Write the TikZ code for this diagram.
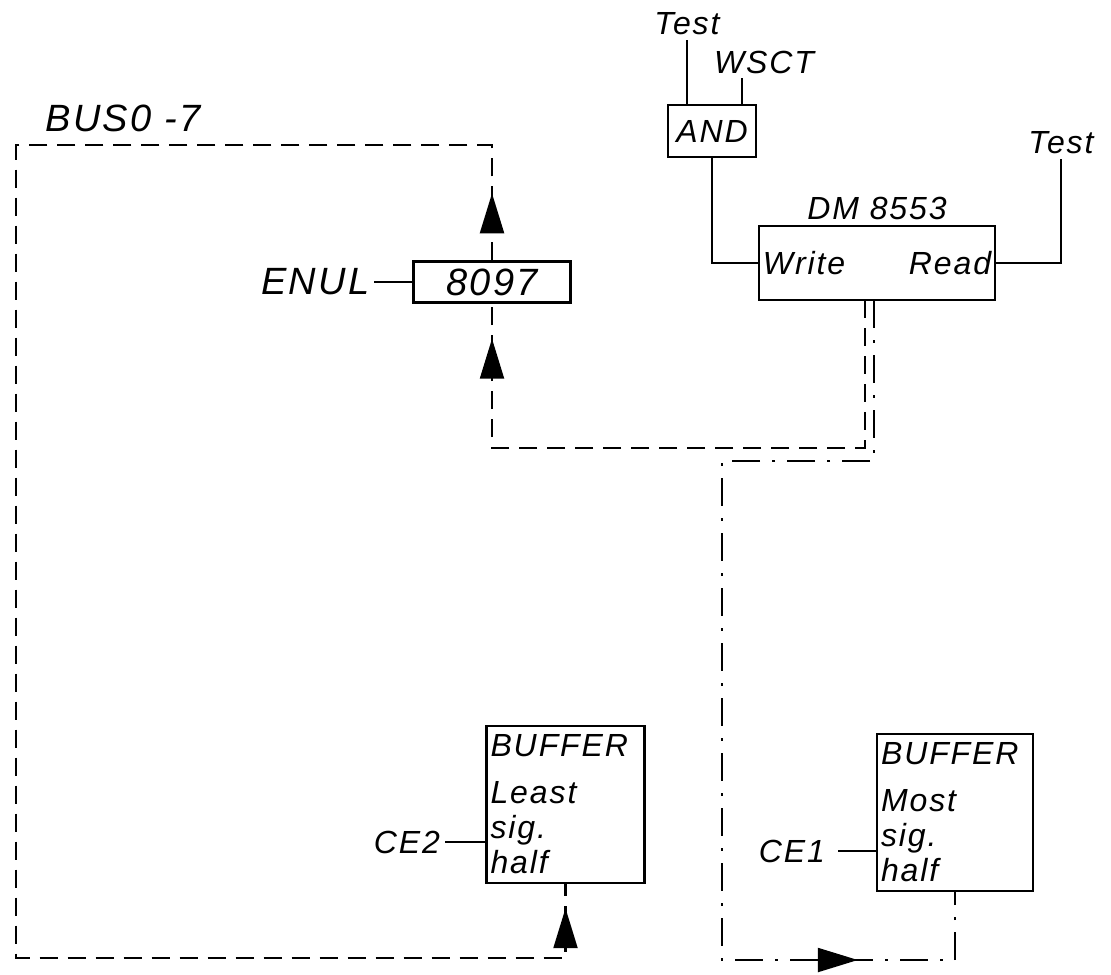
\documentclass[tikz,border=0pt]{standalone}
\usepackage{fontspec}
\setmainfont{Liberation Sans}[LetterSpace=6]
\usetikzlibrary{positioning, arrows.meta, decorations.markings}

\begin{document}
\begin{tikzpicture}[x=0.5pt, y=-0.5pt, line width=1.1pt,
  font=\itshape\fontsize{16}{17.5}\selectfont,
  blk/.style={draw, rectangle, line width=1.2pt, inner sep=2pt},
  lbl/.style={inner sep=2pt},
  big/.style={font=\itshape\fontsize{19}{20}\selectfont},
  bufbox/.style={blk, align=left, minimum height=78.5pt},
  busline/.style={dash pattern=on 9pt off 5pt},
  dotline/.style={dash pattern=on 14pt off 6pt on 1.5pt off 6pt},
  flowtip/.style={postaction={decorate, decoration={markings,
    mark=at position #1 with {\arrow{Triangle[length=20pt, width=12pt]}}}}}]
  \useasboundingbox (0,0) rectangle (1111,974);

  % blocks
  \node[blk, big, minimum width=78.5pt, minimum height=20.5pt] (u8097) at (492,282) {8097};
  \node[lbl, big, left=19pt of u8097] (enul) {ENUL};
  \node[blk, minimum width=44pt, minimum height=26pt] (and) at (712,131) {AND};
  \node[blk, minimum width=118pt, minimum height=37pt] (dm) at (877,263) {};
  \node[lbl, above=0pt of dm] (dmlbl) {DM 8553};
  \node[lbl, anchor=west] (wr) at (dm.west) {Write};
  \node[lbl, anchor=east] (rd) at (dm.east) {Read};
  \node[bufbox, text width=75pt] (lsb) at (565.5,804.5) {BUFFER\\[6pt]Least\\sig.\\half};
  \node[bufbox, text width=74pt] (msb) at (955,812.5) {BUFFER\\[6pt]Most\\sig.\\half};

  % labels
  \node[lbl, big] (buslbl) at (123,118) {BUS0 -7};
  \node[lbl] (test1) at (687,24) {Test};
  \node[lbl] (wsct) at (764,62) {WSCT};
  \node[lbl] (test2) at (1061,143) {Test};
  \node[lbl, anchor=east] (ce2) at (445,842) {CE2};
  \node[lbl, anchor=east, inner xsep=6pt] (ce1) at (838,851) {CE1};
  \coordinate (wsctin) at (742,105);
  \coordinate (dmA) at (865,300);
  \coordinate (dmB) at (874,300);

  % control lines
  \draw (test1.south) -- (test1.south |- and.north);
  \draw (wsctin |- wsct.south) -- (wsctin);
  \draw (and.south) |- (dm.west);
  \draw (dm.east) -| (test2.south);
  \draw (enul) -- (u8097);
  \draw (ce2) -- (ce2 -| lsb.west);
  \draw (ce1) -- (ce1 -| msb.west);

  % data paths
  \draw[busline, flowtip=-17.5pt] (dmA) -- ++(0,148) -| (u8097.south);
  \draw[busline, flowtip=33.5pt, flowtip=-12pt] (u8097.north) |- (16,145) -- (16,958) -| (lsb.south);
  \draw[dotline, flowtip=-82.5pt] (dmB) -- ++(0,161) -| (722,960) -| (msb.south);
\end{tikzpicture}
\end{document}
